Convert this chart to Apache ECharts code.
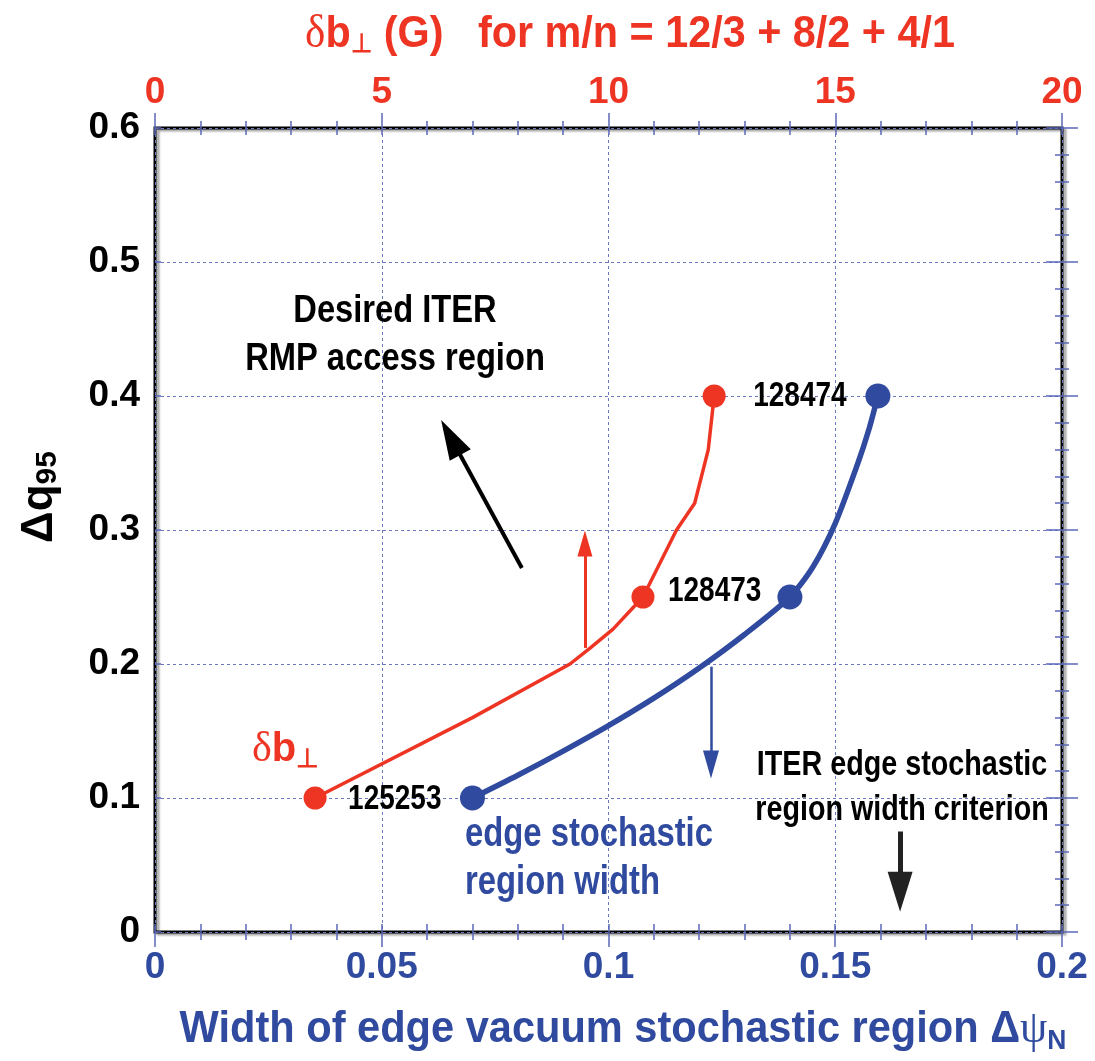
<!DOCTYPE html>
<html>
<head>
<meta charset="utf-8">
<script src="https://cdn.jsdelivr.net/npm/echarts@6/dist/echarts.min.js"></script>
<style>
html, body { margin: 0; padding: 0; background: #fff; }
#main { width: 1095px; height: 1061px; }
</style>
</head>
<body>
<div id="main"></div>
<script>
// red curve: delta b_perp (G, top axis) vs delta q95
var redX = [3.53, 7.0, 9.15, 9.6, 10.1, 10.76, 11.5, 11.9, 12.2, 12.33];
var redY = [0.1, 0.16, 0.2, 0.212, 0.226, 0.25, 0.30, 0.32, 0.36, 0.4];
// blue curve: edge stochastic width (bottom axis) vs delta q95
var blueX = [0.07, 0.08, 0.09, 0.10, 0.11, 0.12, 0.13, 0.14, 0.145, 0.15, 0.155, 0.1575, 0.1594];
var blueY = [0.1, 0.117, 0.135, 0.154, 0.1745, 0.197, 0.222, 0.25, 0.272, 0.305, 0.35, 0.376, 0.4];
// measured shots
var shots = ['125253', '128473', '128474'];
var redShotX = [3.53, 10.76, 12.33];
var blueShotX = [0.07, 0.14, 0.1594];
var shotY = [0.1, 0.25, 0.4];

var RED = '#ee3524';
var BLUE = '#2f4a9e';
var TICK = '#5a68b8';
var FONT = "'Liberation Sans', Arial, sans-serif";

var myChart = echarts.init(document.getElementById('main'));

function zip(xs, ys) {
    var out = [];
    for (var i = 0; i < xs.length; i++) out.push([xs[i], ys[i]]);
    return out;
}

var tickStyle = {color: TICK, width: 1.5};
var gridRect = {left: 155, right: 33, top: 128, bottom: 129};

function tickAxis(grid, pos, max, interval, inside, len, minorLen) {
    return {
        type: 'value', gridIndex: grid, position: pos, min: 0, max: max, interval: interval,
        axisLine: {show: false, onZero: false},
        axisTick: {show: true, inside: inside, length: len, lineStyle: tickStyle},
        minorTick: {show: minorLen > 0, splitNumber: 5, length: minorLen, lineStyle: tickStyle},
        splitLine: {show: false},
        axisLabel: {show: false}
    };
}

var xBottom = tickAxis(0, 'bottom', 0.2, 0.05, false, 15, 8);
xBottom.splitLine = {show: true, lineStyle: {color: '#6b78c0', type: [3, 3], width: 1}};
xBottom.axisLabel = {color: BLUE, fontSize: 37, fontWeight: 'bold', fontFamily: FONT, margin: 17};

var xTop = tickAxis(0, 'top', 20, 5, false, 15, 7);
xTop.axisLabel = {color: RED, fontSize: 37, fontWeight: 'bold', fontFamily: FONT, margin: 17};

var yLeft = tickAxis(0, 'left', 0.6, 0.1, true, 6, 0);
yLeft.splitLine = {show: true, lineStyle: {color: '#6b78c0', type: [3, 3], width: 1}};
yLeft.axisLabel = {
    color: '#000', fontSize: 37, fontWeight: 'bold', fontFamily: FONT, margin: 15,
    formatter: function (v) { return v === 0 ? '0' : v.toFixed(1); }
};
yLeft.name = '{a|Δq}{s|95}';
yLeft.nameLocation = 'middle';
yLeft.nameRotate = 90;
yLeft.nameGap = 92;
yLeft.nameTextStyle = {
    padding: [0, 0, 0, 66],
    rich: {
        a: {color: '#000', fontSize: 44, fontWeight: 'bold', fontFamily: FONT},
        s: {color: '#000', fontSize: 30, fontWeight: 'bold', fontFamily: FONT, padding: [16, 0, 0, 0]}
    }
};

myChart.setOption({
    backgroundColor: '#fff',
    animation: false,
    grid: [
        Object.assign({
            show: true, borderColor: '#000', borderWidth: 3,
            shadowColor: 'rgba(0,0,0,0.35)', shadowOffsetX: 3, shadowOffsetY: 2, shadowBlur: 2
        }, gridRect),
        Object.assign({show: false}, gridRect)
    ],
    xAxis: [
        xBottom,
        xTop,
        tickAxis(1, 'bottom', 0.2, 0.05, true, 8, 8),
        tickAxis(1, 'top', 20, 5, true, 7, 7)
    ],
    yAxis: [
        yLeft,
        tickAxis(0, 'right', 0.6, 0.1, false, 16, 7),
        tickAxis(1, 'right', 0.6, 0.1, true, 16, 7)
    ],
    series: [
        {
            name: 'delta b perp',
            type: 'line',
            xAxisIndex: 1, yAxisIndex: 0,
            data: zip(redX, redY),
            showSymbol: false,
            lineStyle: {color: RED, width: 3.5},
            z: 3,
            markLine: {
                silent: true,
                symbol: ['none', 'triangle'],
                symbolSize: [15, 26],
                label: {show: false},
                lineStyle: {color: RED, width: 3, type: 'solid'},
                data: [[{coord: [9.48, 0.212]}, {coord: [9.48, 0.29]}]]
            }
        },
        {
            name: 'edge stochastic width',
            type: 'line',
            xAxisIndex: 0, yAxisIndex: 0,
            data: zip(blueX, blueY),
            showSymbol: false,
            smooth: 0.25,
            lineStyle: {color: BLUE, width: 5.5},
            z: 3,
            markLine: {
                silent: true,
                symbol: ['none', 'triangle'],
                label: {show: false},
                lineStyle: {type: 'solid'},
                data: [
                    [{coord: [0.1226, 0.198], lineStyle: {color: BLUE, width: 2.5}},
                     {coord: [0.1226, 0.125], symbolSize: [16, 28]}],
                    [{coord: [0.0809, 0.2716], lineStyle: {color: '#000', width: 4}},
                     {coord: [0.0652, 0.369], symbolSize: [24, 40]}],
                    [{coord: [0.1643, 0.075], lineStyle: {color: '#222', width: 5}},
                     {coord: [0.1643, 0.03], symbolSize: [25, 40]}]
                ]
            }
        },
        {
            name: 'red shots',
            type: 'scatter',
            xAxisIndex: 1, yAxisIndex: 0,
            data: zip(redShotX, shotY),
            symbolSize: 23,
            itemStyle: {color: RED, opacity: 1},
            z: 5
        },
        {
            name: 'blue shots',
            type: 'scatter',
            xAxisIndex: 0, yAxisIndex: 0,
            data: zip(blueShotX, shotY),
            symbolSize: 25,
            itemStyle: {color: BLUE, opacity: 1},
            z: 5
        }
    ]
});

// text annotations; shot numbers are placed next to the red markers via the axis scales
var graphics = [
    {
        type: 'text', x: 630, y: 35, scaleX: 0.94,
        style: {
            text: '{d|δ}{a|b}{s|⊥}{a| (G)   for m/n = 12/3 + 8/2 + 4/1}',
            align: 'center', verticalAlign: 'middle',
            rich: {
                d: {fill: RED, font: '46px Liberation Serif, serif'},
                a: {fill: RED, font: 'bold 44px ' + FONT},
                s: {fill: RED, font: 'bold 26px ' + FONT, padding: [20, 0, 0, 0]}
            }
        }
    },
    {
        type: 'text', x: 623, y: 1030, scaleX: 0.945,
        style: {
            text: '{a|Width of edge vacuum stochastic region Δ}{p|ψ}{s|N}',
            align: 'center', verticalAlign: 'middle',
            rich: {
                a: {fill: BLUE, font: 'bold 44px ' + FONT},
                p: {fill: BLUE, font: '46px Liberation Serif, serif'},
                s: {fill: BLUE, font: 'bold 28px ' + FONT, padding: [22, 0, 0, 0]}
            }
        }
    },
    {
        type: 'text', x: 395, y: 336, scaleX: 0.86,
        style: {
            text: 'Desired ITER\nRMP access region', align: 'center', verticalAlign: 'middle',
            fill: '#000', font: 'bold 38px ' + FONT, lineHeight: 48
        }
    },
    {
        type: 'text', x: 465, y: 859, scaleX: 0.82,
        style: {
            text: 'edge stochastic\nregion width', align: 'left', verticalAlign: 'middle',
            fill: BLUE, font: 'bold 40px ' + FONT, lineHeight: 48
        }
    },
    {
        type: 'text', x: 902, y: 788, scaleX: 0.82,
        style: {
            text: 'ITER edge stochastic\nregion width criterion', align: 'center', verticalAlign: 'middle',
            fill: '#000', font: 'bold 35px ' + FONT, lineHeight: 45
        }
    },
    {
        type: 'text', x: 252, y: 750,
        style: {
            text: '{d|δ}{b|b}{s|⊥}', verticalAlign: 'middle',
            rich: {
                d: {fill: RED, font: '42px Liberation Serif, serif'},
                b: {fill: RED, font: 'bold 40px ' + FONT},
                s: {fill: RED, font: 'bold 26px ' + FONT, padding: [20, 0, 0, 0]}
            }
        }
    }
];

var shotGap = [33, 25, 39];
var shotDy = [1, -6, 0];
for (var i = 0; i < shots.length; i++) {
    var p = myChart.convertToPixel({xAxisIndex: 1, yAxisIndex: 0}, [redShotX[i], shotY[i]]);
    graphics.push({
        type: 'text', x: p[0] + shotGap[i], y: p[1] + shotDy[i], scaleX: 0.8, z: 10,
        style: {
            text: shots[i], align: 'left', verticalAlign: 'middle',
            fill: '#000', font: 'bold 35px ' + FONT
        }
    });
}
myChart.setOption({graphic: graphics});
</script>
</body>
</html>
